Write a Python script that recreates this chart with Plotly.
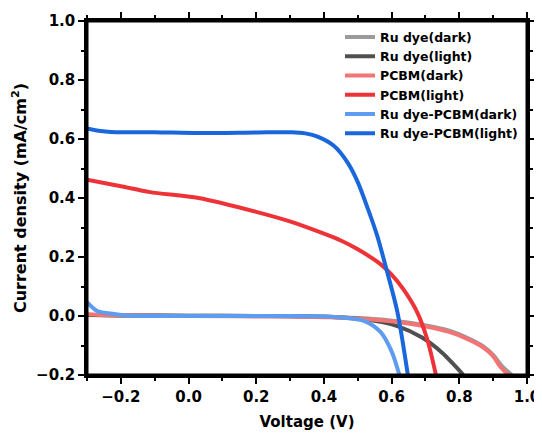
import plotly.graph_objects as go

# Ru dye (dark)
v_ru_dark = [-0.30, -0.2, 0.0, 0.2, 0.42, 0.52, 0.617, 0.71, 0.77, 0.82, 0.87, 0.90, 0.925, 0.955]
j_ru_dark = [0.004, 0.002, 0.001, 0.0, -0.003, -0.008, -0.018, -0.034, -0.05, -0.072, -0.102, -0.132, -0.168, -0.2]
# Ru dye (light)
v_ru_light = [-0.30, -0.2, 0.0, 0.2, 0.42, 0.52, 0.617, 0.69, 0.75, 0.78, 0.812]
j_ru_light = [0.003, 0.002, 0.001, 0.0, -0.003, -0.011, -0.034, -0.073, -0.125, -0.16, -0.2]
# PCBM (dark)
v_pcbm_dark = [-0.30, -0.25, 0.0, 0.3, 0.42, 0.52, 0.617, 0.71, 0.77, 0.82, 0.87, 0.90, 0.92, 0.945]
j_pcbm_dark = [0.006, 0.003, 0.0, -0.002, -0.004, -0.01, -0.02, -0.037, -0.054, -0.076, -0.106, -0.136, -0.17, -0.2]
# PCBM (light)
v_pcbm_light = [-0.30, -0.2, -0.114, 0.03, 0.2, 0.304, 0.40, 0.45, 0.50, 0.567, 0.60, 0.635, 0.675, 0.705, 0.731]
j_pcbm_light = [0.462, 0.44, 0.42, 0.40, 0.353, 0.319, 0.279, 0.256, 0.226, 0.176, 0.14, 0.09, 0.014, -0.078, -0.2]
# Ru dye-PCBM (dark)
v_rp_dark = [-0.30, -0.27, -0.22, -0.17, 0.0, 0.2, 0.42, 0.52, 0.567, 0.60, 0.623]
j_rp_dark = [0.047, 0.017, 0.007, 0.001, 0.0, 0.0, -0.002, -0.017, -0.054, -0.12, -0.2]
# Ru dye-PCBM (light)
v_rp_light = [-0.30, -0.26, -0.23, -0.1, 0.03, 0.2, 0.304, 0.345, 0.383, 0.43, 0.47, 0.50, 0.53, 0.558, 0.582, 0.617, 0.648]
j_rp_light = [0.636, 0.627, 0.624, 0.623, 0.62, 0.622, 0.623, 0.619, 0.607, 0.576, 0.52, 0.454, 0.363, 0.27, 0.17, 0.014, -0.2]

series = [
    ("Ru dye(dark)", v_ru_dark, j_ru_dark, "#9b9b9b"),
    ("Ru dye(light)", v_ru_light, j_ru_light, "#505050"),
    ("PCBM(dark)", v_pcbm_dark, j_pcbm_dark, "#f27474"),
    ("PCBM(light)", v_pcbm_light, j_pcbm_light, "#ee3338"),
    ("Ru dye-PCBM(dark)", v_rp_dark, j_rp_dark, "#5d9cef"),
    ("Ru dye-PCBM(light)", v_rp_light, j_rp_light, "#1a67dc"),
]

fig = go.Figure()
for name, v, j, c in series:
    fig.add_trace(go.Scatter(x=v, y=j, name=name, mode="lines",
                             line=dict(color=c, width=4, shape="spline", smoothing=0.8)))

font_family = "DejaVu Sans, sans-serif"
tickfont = dict(family=font_family, size=15, color="black", weight="bold")
ytitlefont = dict(family=font_family, size=16, color="black", weight="bold")
minor = dict(ticks="outside", ticklen=3, tickwidth=2, tickcolor="black", showgrid=False, dtick=0.1)

fig.update_layout(
    xaxis=dict(range=[-0.3, 1.0], tick0=0, dtick=0.2, tickformat=".1f",
               showline=True, linecolor="black", linewidth=2.5, mirror="all",
               ticks="outside", ticklen=6, tickwidth=2, tickcolor="black",
               tickfont=tickfont, showgrid=False, zeroline=False, minor=minor,
               ticklabeloverflow="allow",
               title=dict(text="Voltage (V)", font=tickfont, standoff=20)),
    yaxis=dict(range=[-0.2, 1.0], tick0=0, dtick=0.2, tickformat=".1f",
               showline=True, linecolor="black", linewidth=2.5, mirror="all",
               ticks="outside", ticklen=6, tickwidth=2, tickcolor="black",
               tickfont=tickfont, showgrid=False, zeroline=False, minor=minor,
               title=dict(text="Current density (mA/cm<sup>2</sup>)", font=ytitlefont, standoff=6)),
)

# plot frame drawn as a bordered empty box covering the plot area
fig.add_annotation(xref="paper", yref="paper", x=0.5, y=0.5, text="", showarrow=False,
                   width=437, height=351, bordercolor="black", borderwidth=2.5, borderpad=0)

# page body has an 8px margin; keep the figure inside the window so no scrollbars appear
fig.update_layout(
    width=526, height=423,
    margin=dict(l=79, r=7, t=13, b=56, autoexpand=False),
    plot_bgcolor="white", paper_bgcolor="white",
    legend=dict(x=0.575, y=0.996, xanchor="left", yanchor="top",
                font=dict(family=font_family, size=12.5, color="black", weight="bold"),
                bgcolor="rgba(0,0,0,0)", tracegroupgap=0, itemwidth=30),
    showlegend=True,
)

fig.write_html("out.html")
